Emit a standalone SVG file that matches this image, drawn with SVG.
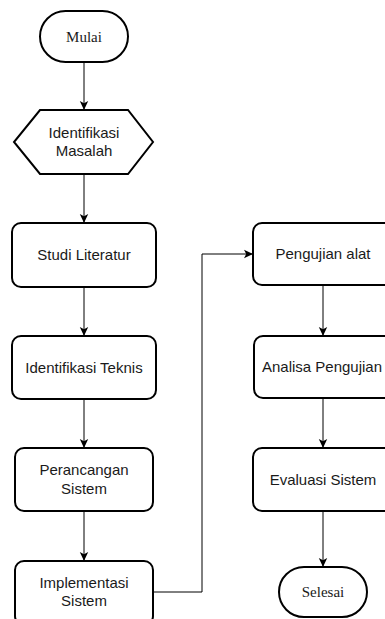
<svg xmlns="http://www.w3.org/2000/svg" width="385" height="619" viewBox="0 0 385 619">
<style>
.shape{fill:#fff;stroke:#000;stroke-width:2}
.edge{fill:none;stroke:#000;stroke-width:1}
.sans{font-family:"Liberation Sans",Arial,sans-serif;font-size:15px;fill:#1a1a1a;text-anchor:middle}
.serif{font-family:"Liberation Serif","Times New Roman",serif;font-size:15px;fill:#1a1a1a;text-anchor:middle}
</style>
<defs>
<marker id="arr" markerUnits="userSpaceOnUse" markerWidth="10" markerHeight="10" viewBox="0 0 10 10" refX="9" refY="5" orient="auto">
<path d="M0,0.8 L9,5 L0,9.2 L2.2,5 z" fill="#000"/>
</marker>
</defs>
<rect width="385" height="619" fill="#fff"/>
<g id="connectors">
<path class="edge" d="M84,62 V110" marker-end="url(#arr)"/>
<path class="edge" d="M84,174 V223" marker-end="url(#arr)"/>
<path class="edge" d="M84,287 V336" marker-end="url(#arr)"/>
<path class="edge" d="M84,399 V448" marker-end="url(#arr)"/>
<path class="edge" d="M84,511 V561" marker-end="url(#arr)"/>
<path class="edge" d="M153,592 H202 V254 H253" marker-end="url(#arr)"/>
<path class="edge" d="M323,285 V336" marker-end="url(#arr)"/>
<path class="edge" d="M323,398 V448" marker-end="url(#arr)"/>
<path class="edge" d="M323,511 V567" marker-end="url(#arr)"/>
</g>
<g id="mulai">
<rect class="shape" x="40" y="11" width="88" height="51" rx="25.5" ry="25.5"/>
<text class="serif" x="84" y="42">Mulai</text>
</g>
<g id="identifikasi-masalah">
<polygon class="shape" points="40,110 128,110 153,142 128,174 40,174 14,142"/>
<text class="sans" x="84" y="138">Identifikasi</text>
<text class="sans" x="84" y="156">Masalah</text>
</g>
<g id="studi-literatur">
<rect class="shape" x="12" y="223" width="144" height="64" rx="9"/>
<text class="sans" x="84" y="260">Studi Literatur</text>
</g>
<g id="identifikasi-teknis">
<rect class="shape" x="12" y="336" width="144" height="63" rx="9"/>
<text class="sans" x="84" y="373">Identifikasi Teknis</text>
</g>
<g id="perancangan-sistem">
<rect class="shape" x="15" y="448" width="138" height="63" rx="9"/>
<text class="sans" x="84" y="475">Perancangan</text>
<text class="sans" x="84" y="494">Sistem</text>
</g>
<g id="implementasi-sistem">
<rect class="shape" x="15" y="561" width="138" height="64" rx="9"/>
<text class="sans" x="84" y="588">Implementasi</text>
<text class="sans" x="84" y="606">Sistem</text>
</g>
<g id="pengujian-alat">
<rect class="shape" x="253" y="223" width="140" height="62" rx="9"/>
<text class="sans" x="323" y="259">Pengujian alat</text>
</g>
<g id="analisa-pengujian">
<rect class="shape" x="254" y="336" width="140" height="62" rx="9"/>
<text class="sans" x="322" y="372">Analisa Pengujian</text>
</g>
<g id="evaluasi-sistem">
<rect class="shape" x="253" y="448" width="140" height="63" rx="9"/>
<text class="sans" x="323" y="485">Evaluasi Sistem</text>
</g>
<g id="selesai">
<rect class="shape" x="279" y="567" width="88" height="50" rx="25" ry="25"/>
<text class="serif" x="323" y="597">Selesai</text>
</g>
</svg>
